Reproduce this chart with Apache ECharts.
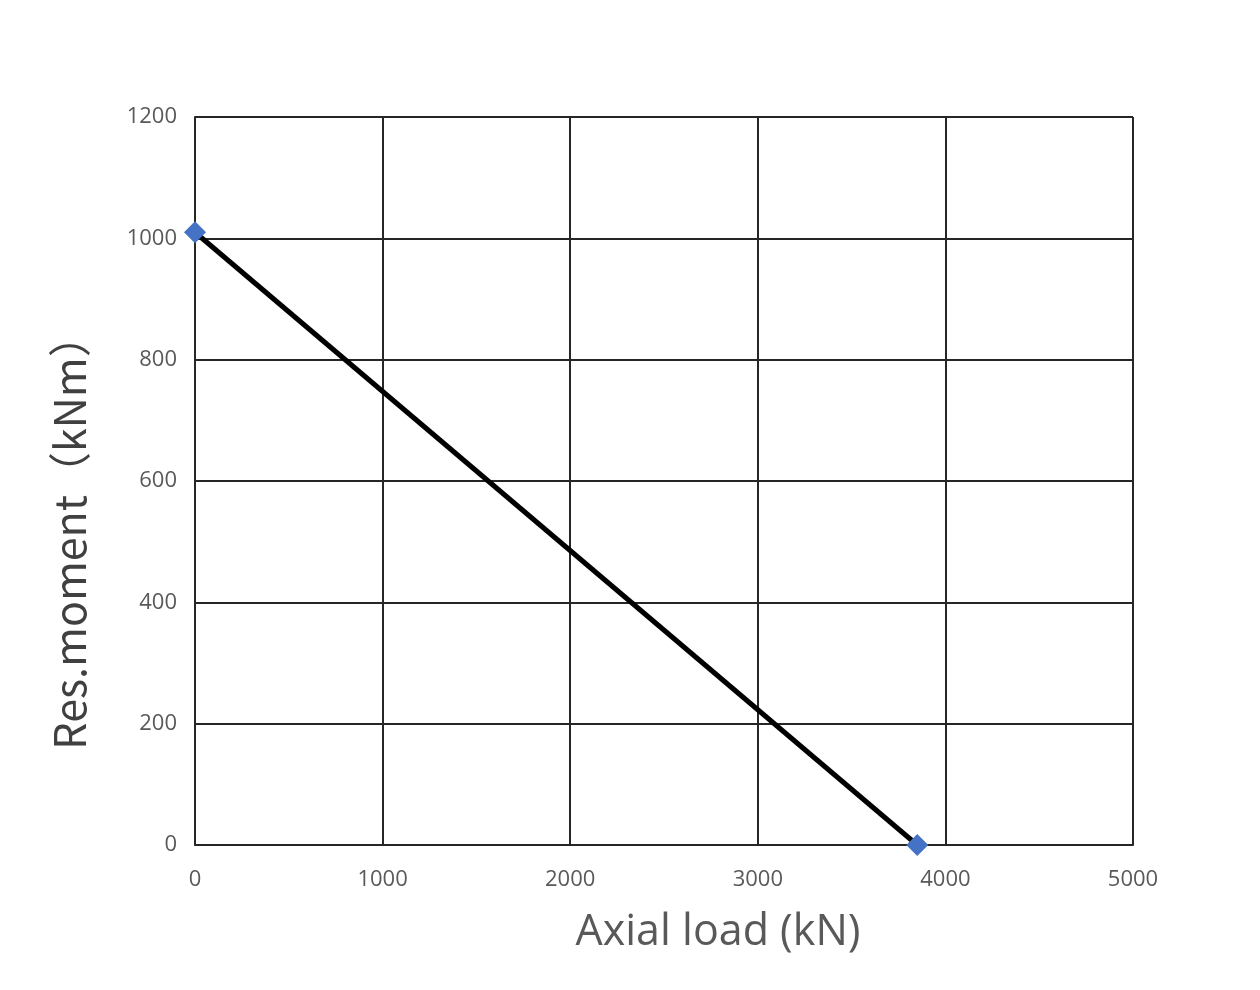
<!DOCTYPE html>
<html>
<head>
<meta charset="utf-8">
<script src="https://cdn.jsdelivr.net/npm/echarts@6/dist/echarts.min.js"></script>
<style>html,body{margin:0;padding:0;background:#fff;}#c{width:1260px;height:990px;}</style>
</head>
<body>
<div id="c"></div>
<script>
const axialLoad = [0, 3850];
const resMoment = [1010, 0];
const xTitle = 'Axial load (kN)';
const yTitle = 'Res.moment（kNm）';

const chart = echarts.init(document.getElementById('c'));
const font = '"Open Sans", "Noto Sans", sans-serif';
chart.setOption({
  backgroundColor: '#fff',
  animation: false,
  grid: { left: 195, right: 127, top: 117, bottom: 145 },
  graphic: [
    { type: 'text', x: 718, y: 933, style: { text: xTitle, fontSize: 43, fill: '#595959', fontFamily: font, align: 'center', verticalAlign: 'middle' } },
    { type: 'text', x: 70, y: 532, rotation: Math.PI / 2, style: { text: yTitle, fontSize: 43, fill: '#404040', fontFamily: '"Noto Sans CJK SC", "Open Sans", sans-serif', align: 'center', verticalAlign: 'middle' } }
  ],
  xAxis: {
    type: 'value', min: 0, max: 5000, interval: 1000,
    axisLine: { show: true, lineStyle: { color: '#262626', width: 2 } },
    axisTick: { show: false },
    axisLabel: { fontSize: 22, color: '#595959', margin: 24, fontFamily: font, formatter: v => String(v) },
    splitLine: { show: true, lineStyle: { color: '#262626', width: 2 } }
  },
  yAxis: {
    type: 'value', min: 0, max: 1200, interval: 200,
    axisLine: { show: true, lineStyle: { color: '#262626', width: 2 } },
    axisTick: { show: false },
    axisLabel: { fontSize: 22, color: '#595959', margin: 18, fontFamily: font, formatter: v => String(v) },
    splitLine: { show: true, lineStyle: { color: '#262626', width: 2 } }
  },
  series: [{
    type: 'line',
    data: axialLoad.map((x, i) => [x, resMoment[i]]),
    lineStyle: { color: '#000', width: 5 },
    symbol: 'diamond', symbolSize: 22,
    itemStyle: { color: '#4472C4' },
    z: 5
  }]
});
</script>
</body>
</html>
